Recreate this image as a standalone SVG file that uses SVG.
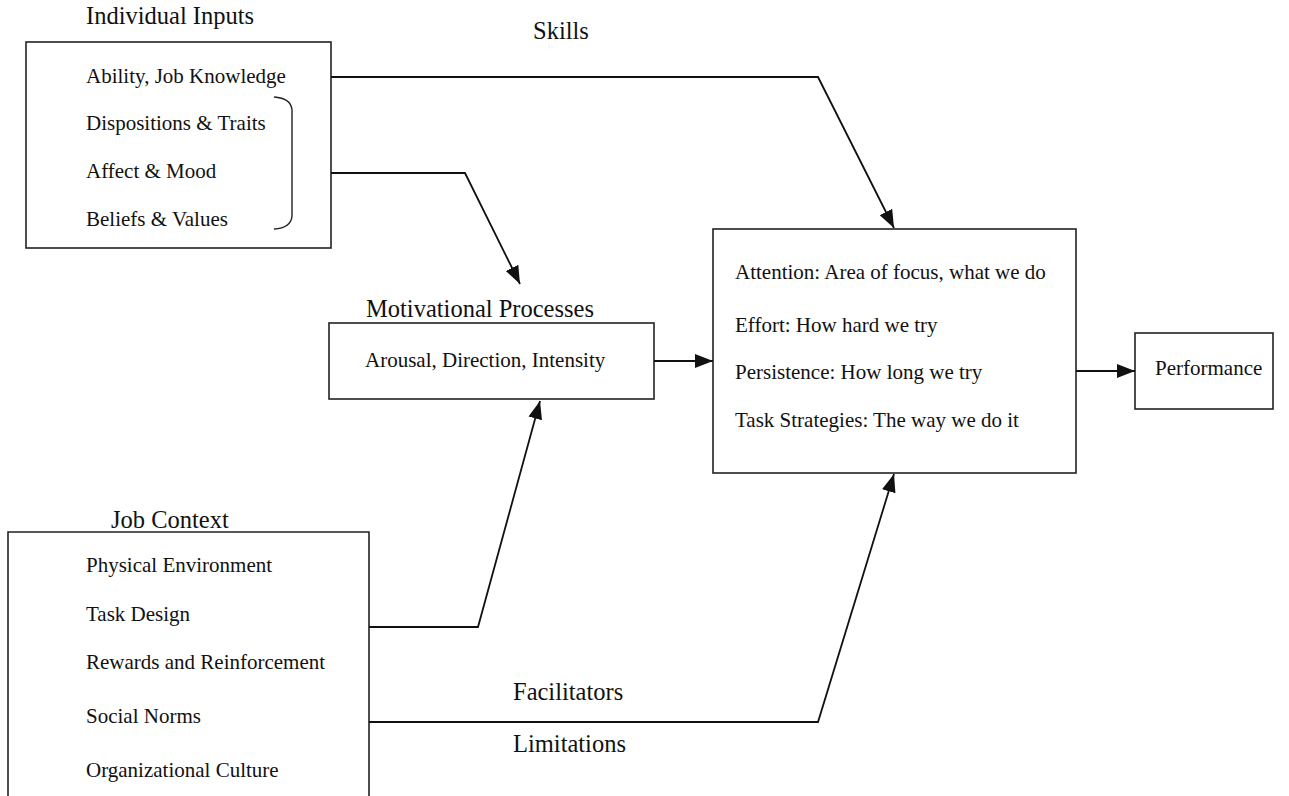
<svg xmlns="http://www.w3.org/2000/svg" width="1289" height="796" viewBox="0 0 1289 796">
<style>
  text { font-family: "Liberation Serif", "Times New Roman", serif; fill: #111; }
  .item { font-size: 21px; }
  .title { font-size: 24.5px; }
  .box { fill: #fff; stroke: #222; stroke-width: 1.6; }
  .conn { fill: none; stroke: #111; stroke-width: 1.8; }
  .brace { fill: none; stroke: #222; stroke-width: 1.4; }
</style>
<defs>
  <marker id="arrow" markerUnits="userSpaceOnUse" viewBox="0 0 18 14" refX="18" refY="7" markerWidth="18" markerHeight="14" orient="auto">
    <path d="M0,0 L18,7 L0,14 z" fill="#111"/>
  </marker>
</defs>
<rect width="1289" height="796" fill="#fff"/>

<g id="individual-inputs">
  <text class="title" x="86" y="24">Individual Inputs</text>
  <rect class="box" x="26" y="42" width="305" height="206"/>
  <text class="item" x="86" y="83">Ability, Job Knowledge</text>
  <text class="item" x="86" y="130">Dispositions &amp; Traits</text>
  <text class="item" x="86" y="178">Affect &amp; Mood</text>
  <text class="item" x="86" y="226">Beliefs &amp; Values</text>
  <path class="brace" d="M274,97 Q291,98 292,110 L292,216 Q291,228 274,229"/>
</g>

<g id="motivational-processes">
  <text class="title" x="366" y="317">Motivational Processes</text>
  <rect class="box" x="329" y="323" width="325" height="76"/>
  <text class="item" x="365" y="367">Arousal, Direction, Intensity</text>
</g>

<g id="mediators">
  <rect class="box" x="713" y="229" width="363" height="244"/>
  <text class="item" x="735" y="279">Attention: Area of focus, what we do</text>
  <text class="item" x="735" y="332">Effort: How hard we try</text>
  <text class="item" x="735" y="379">Persistence: How long we try</text>
  <text class="item" x="735" y="427">Task Strategies: The way we do it</text>
</g>

<g id="performance">
  <rect class="box" x="1135" y="333" width="138" height="76"/>
  <text class="item" x="1155" y="375">Performance</text>
</g>

<g id="job-context">
  <text class="title" x="111" y="528">Job Context</text>
  <path class="box" d="M8,800 V532 H369 V800"/>
  <text class="item" x="86" y="572">Physical Environment</text>
  <text class="item" x="86" y="621">Task Design</text>
  <text class="item" x="86" y="669">Rewards and Reinforcement</text>
  <text class="item" x="86" y="723">Social Norms</text>
  <text class="item" x="86" y="777">Organizational Culture</text>
</g>

<g id="connectors">
  <path class="conn" d="M331,77 H818 L894,228" marker-end="url(#arrow)"/>
  <path class="conn" d="M331,173 H465 L520,284" marker-end="url(#arrow)"/>
  <path class="conn" d="M654,361 H713" marker-end="url(#arrow)"/>
  <path class="conn" d="M1076,371 H1135" marker-end="url(#arrow)"/>
  <path class="conn" d="M369,627 H478 L540,401" marker-end="url(#arrow)"/>
  <path class="conn" d="M369,722 H818 L894,474" marker-end="url(#arrow)"/>
  <text class="title" x="533" y="39">Skills</text>
  <text class="title" x="513" y="700">Facilitators</text>
  <text class="title" x="513" y="752">Limitations</text>
</g>
</svg>
